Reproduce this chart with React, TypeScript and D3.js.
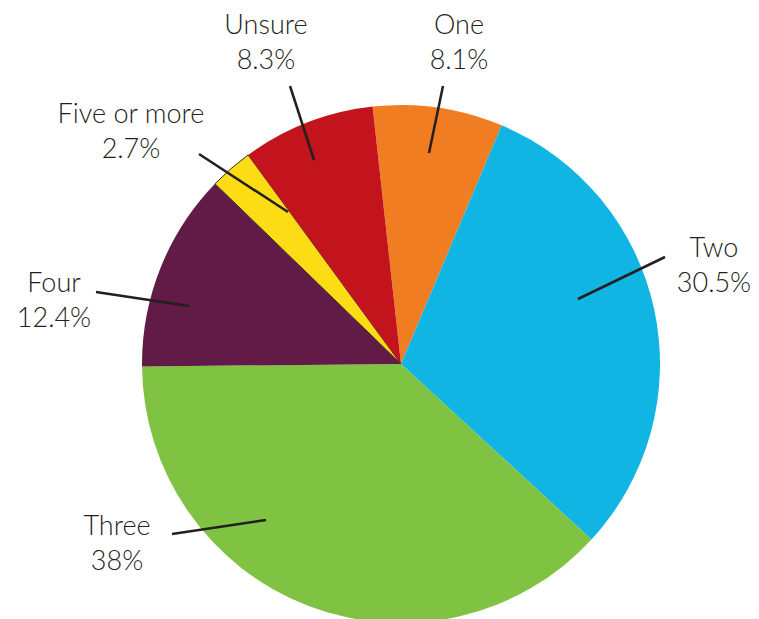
import React from "react";
import * as d3 from "d3";

const categories = ["One", "Two", "Three", "Four", "Five or more", "Unsure"];
const values = [8.1, 30.5, 38, 12.4, 2.7, 8.3];
const valueLabels = ["8.1%", "30.5%", "38%", "12.4%", "2.7%", "8.3%"];
const colors = ["#F07D22", "#10B5E4", "#80C242", "#621A47", "#FCDC15", "#C3141D"];

// annotation layout: label center x, first baseline y, leader line from (x1,y1) to (x2,y2)
const labelLayout = [
  { tx: 459, ty: 34, x1: 443, y1: 86, x2: 429, y2: 153 },
  { tx: 714, ty: 257, x1: 665, y1: 257, x2: 578, y2: 299 },
  { tx: 117, ty: 535, x1: 172, y1: 534, x2: 266, y2: 520 },
  { tx: 54, ty: 292, x1: 96, y1: 292, x2: 189, y2: 306 },
  { tx: 131, ty: 123, x1: 199, y1: 154, x2: 288, y2: 212 },
  { tx: 266, ty: 34, x1: 290, y1: 86, x2: 314, y2: 160 },
];

const W = 759;
const H = 619;
const cx = 401;
const cy = 364;
const R = 259;
const startDeg = -6.3;

export default function App() {
  const pie = d3
    .pie<number>()
    .sort(null)
    .value((d) => d)
    .startAngle((startDeg * Math.PI) / 180)
    .endAngle((startDeg * Math.PI) / 180 + 2 * Math.PI);
  const arcs = pie(values);
  const arc = d3.arc<d3.PieArcDatum<number>>().innerRadius(0).outerRadius(R);

  return (
    <svg
      width={W}
      height={H}
      style={{ position: "absolute", left: 0, top: 0, background: "#fff" }}
      fontFamily="Lato, 'Open Sans', sans-serif"
    >
      <g transform={`translate(${cx},${cy})`}>
        {arcs.map((a, i) => (
          <path
            key={categories[i]}
            d={arc(a) || ""}
            fill={colors[i]}
            stroke={categories[i] === "Five or more" ? "#3a2a2a" : "none"}
            strokeWidth={categories[i] === "Five or more" ? 1 : 0}
          />
        ))}
      </g>
      {labelLayout.map((l, i) => (
        <g key={categories[i]}>
          <line x1={l.x1} y1={l.y1} x2={l.x2} y2={l.y2} stroke="#231F20" strokeWidth={2.5} />
          <text x={l.tx} y={l.ty} textAnchor="middle" fontSize={27} fontWeight={300} fill="#231F20">
            {categories[i]}
          </text>
          <text x={l.tx} y={l.ty + 35} textAnchor="middle" fontSize={27} fontWeight={300} fill="#231F20">
            {valueLabels[i]}
          </text>
        </g>
      ))}
    </svg>
  );
}
